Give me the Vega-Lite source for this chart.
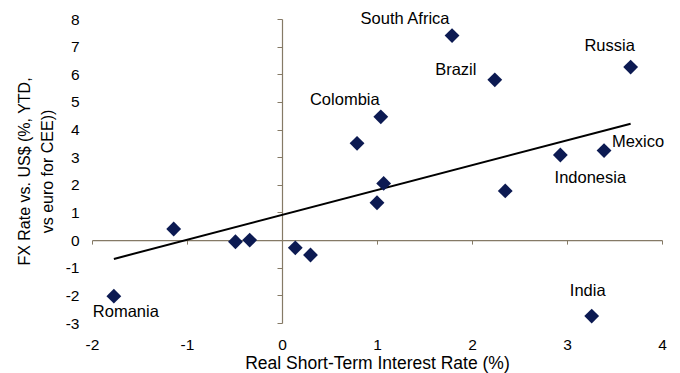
{
  "$schema": "https://vega.github.io/schema/vega-lite/v6.json",
  "width": 570,
  "height": 304,
  "autosize": {"type": "none"},
  "padding": {"left": 92, "top": 19, "right": 18, "bottom": 50},
  "background": "white",
  "config": {
    "view": {"stroke": null},
    "font": "Liberation Sans",
    "axis": {"grid": false, "labelFont": "Liberation Sans", "titleFont": "Liberation Sans", "labelColor": "#000000", "titleColor": "#000000", "titleFontWeight": "normal", "labelFlush": false, "labelOverlap": false}
  },
  "data": {
    "values": [
      {"rate": 1.79, "fx": 7.40, "label": "South Africa"},
      {"rate": 2.24, "fx": 5.80, "label": "Brazil"},
      {"rate": 3.67, "fx": 6.26, "label": "Russia"},
      {"rate": 1.04, "fx": 4.46, "label": "Colombia"},
      {"rate": 0.79, "fx": 3.50, "label": ""},
      {"rate": 1.07, "fx": 2.05, "label": ""},
      {"rate": 2.93, "fx": 3.08, "label": "Indonesia"},
      {"rate": 3.39, "fx": 3.24, "label": "Mexico"},
      {"rate": 2.35, "fx": 1.78, "label": ""},
      {"rate": 1.00, "fx": 1.35, "label": ""},
      {"rate": -1.14, "fx": 0.40, "label": ""},
      {"rate": -0.49, "fx": -0.06, "label": ""},
      {"rate": -0.34, "fx": 0.00, "label": ""},
      {"rate": 0.14, "fx": -0.28, "label": ""},
      {"rate": 0.30, "fx": -0.54, "label": ""},
      {"rate": -1.77, "fx": -2.03, "label": "Romania"},
      {"rate": 3.26, "fx": -2.75, "label": "India"}
    ]
  },
  "resolve": {"axis": {"x": "independent", "y": "independent"}},
  "layer": [
    {
      "mark": {"type": "line", "color": "#000000", "strokeWidth": 2},
      "transform": [{"regression": "fx", "on": "rate"}],
      "encoding": {
        "x": {"field": "rate", "type": "quantitative", "scale": {"domain": [-2, 4], "nice": false, "zero": false},
              "axis": {"orient": "bottom", "offset": -82.9, "domain": true, "domainColor": "#857a66", "domainWidth": 1.2, "ticks": true, "tickColor": "#857a66", "tickSize": 4, "values": [-2, -1, 0, 1, 2, 3, 4], "labels": false, "title": null}},
        "y": {"field": "fx", "type": "quantitative", "scale": {"domain": [-3, 8], "nice": false, "zero": false},
              "axis": {"orient": "left", "offset": -190, "domain": true, "domainColor": "#857a66", "domainWidth": 1.2, "ticks": true, "tickColor": "#857a66", "tickSize": 5, "values": [-3, -2, -1, 0, 1, 2, 3, 4, 5, 6, 7, 8], "labels": false, "title": null}}
      }
    },
    {
      "mark": {"type": "point", "shape": "diamond", "filled": true, "size": 220, "color": "#0c1a52", "opacity": 1},
      "encoding": {
        "x": {"field": "rate", "type": "quantitative",
              "axis": {"orient": "bottom", "domain": false, "ticks": false, "values": [-2, -1, 0, 1, 2, 3, 4], "labelExpr": "'' + datum.value", "labelFontSize": 15.5, "labelPadding": 14, "title": "Real Short-Term Interest Rate (%)", "titleFontSize": 17.5, "titlePadding": 2}},
        "y": {"field": "fx", "type": "quantitative",
              "axis": {"orient": "left", "domain": false, "ticks": false, "values": [-3, -2, -1, 0, 1, 2, 3, 4, 5, 6, 7, 8], "labelExpr": "'' + datum.value", "labelFontSize": 15.5, "labelPadding": 13, "title": ["FX Rate vs. US$ (%, YTD,", "vs euro for CEE))"], "titleFontSize": 16, "titleLineHeight": 23, "titlePadding": 10}}
      }
    },
    {
      "transform": [{"filter": "datum.label == 'South Africa'"}],
      "mark": {"type": "text", "font": "Liberation Sans", "fontSize": 16.5, "color": "#000000", "align": "center", "baseline": "middle", "dx": -47, "dy": -17},
      "encoding": {"x": {"field": "rate", "type": "quantitative", "axis": null}, "y": {"field": "fx", "type": "quantitative", "axis": null}, "text": {"field": "label"}}
    },
    {
      "transform": [{"filter": "datum.label == 'Russia'"}],
      "mark": {"type": "text", "font": "Liberation Sans", "fontSize": 16.5, "color": "#000000", "align": "center", "baseline": "middle", "dx": -21, "dy": -21},
      "encoding": {"x": {"field": "rate", "type": "quantitative", "axis": null}, "y": {"field": "fx", "type": "quantitative", "axis": null}, "text": {"field": "label"}}
    },
    {
      "transform": [{"filter": "datum.label == 'Brazil'"}],
      "mark": {"type": "text", "font": "Liberation Sans", "fontSize": 16.5, "color": "#000000", "align": "center", "baseline": "middle", "dx": -39, "dy": -10},
      "encoding": {"x": {"field": "rate", "type": "quantitative", "axis": null}, "y": {"field": "fx", "type": "quantitative", "axis": null}, "text": {"field": "label"}}
    },
    {
      "transform": [{"filter": "datum.label == 'Colombia'"}],
      "mark": {"type": "text", "font": "Liberation Sans", "fontSize": 16.5, "color": "#000000", "align": "center", "baseline": "middle", "dx": -36, "dy": -17},
      "encoding": {"x": {"field": "rate", "type": "quantitative", "axis": null}, "y": {"field": "fx", "type": "quantitative", "axis": null}, "text": {"field": "label"}}
    },
    {
      "transform": [{"filter": "datum.label == 'Mexico'"}],
      "mark": {"type": "text", "font": "Liberation Sans", "fontSize": 16.5, "color": "#000000", "align": "center", "baseline": "middle", "dx": 34, "dy": -9},
      "encoding": {"x": {"field": "rate", "type": "quantitative", "axis": null}, "y": {"field": "fx", "type": "quantitative", "axis": null}, "text": {"field": "label"}}
    },
    {
      "transform": [{"filter": "datum.label == 'Indonesia'"}],
      "mark": {"type": "text", "font": "Liberation Sans", "fontSize": 16.5, "color": "#000000", "align": "center", "baseline": "middle", "dx": 30, "dy": 23},
      "encoding": {"x": {"field": "rate", "type": "quantitative", "axis": null}, "y": {"field": "fx", "type": "quantitative", "axis": null}, "text": {"field": "label"}}
    },
    {
      "transform": [{"filter": "datum.label == 'Romania'"}],
      "mark": {"type": "text", "font": "Liberation Sans", "fontSize": 16.5, "color": "#000000", "align": "center", "baseline": "middle", "dx": 12, "dy": 16},
      "encoding": {"x": {"field": "rate", "type": "quantitative", "axis": null}, "y": {"field": "fx", "type": "quantitative", "axis": null}, "text": {"field": "label"}}
    },
    {
      "transform": [{"filter": "datum.label == 'India'"}],
      "mark": {"type": "text", "font": "Liberation Sans", "fontSize": 16.5, "color": "#000000", "align": "center", "baseline": "middle", "dx": -4, "dy": -25},
      "encoding": {"x": {"field": "rate", "type": "quantitative", "axis": null}, "y": {"field": "fx", "type": "quantitative", "axis": null}, "text": {"field": "label"}}
    }
  ]
}
